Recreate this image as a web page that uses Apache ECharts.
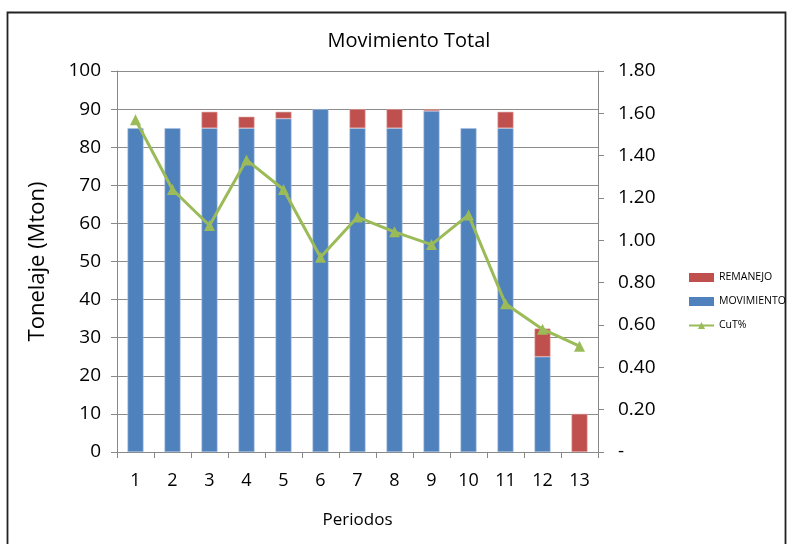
<!DOCTYPE html>
<html><head><meta charset="utf-8">
<script src="https://cdn.jsdelivr.net/npm/echarts@6/dist/echarts.min.js"></script>
<style>html,body{margin:0;padding:0;background:#fff}#c{width:788px;height:544px}</style>
</head><body><div id="c"></div>
<script>
const categories = ['1','2','3','4','5','6','7','8','9','10','11','12','13'];
const movimiento = [85, 85, 85, 85, 87.5, 90, 85, 85, 89.5, 85, 85, 25, 0];
const remanejo   = [0, 0, 4.3, 3, 1.8, 0, 5, 5, 0.5, 0, 4.3, 7.4, 10];
const cut        = [1.57, 1.24, 1.07, 1.38, 1.24, 0.92, 1.11, 1.04, 0.98, 1.12, 0.70, 0.58, 0.50];

const FONT = '"Open Sans", sans-serif';
const nz = a => a.map(v => v === 0 ? null : v);
const chart = echarts.init(document.getElementById('c'));
chart.setOption({
  animation: false,
  textStyle: { fontFamily: FONT },
  graphic: [{ type: 'rect', shape: { x: 7.5, y: 12.5, width: 778, height: 540 }, style: { fill: 'none', stroke: '#222', lineWidth: 1.8 } }],
  title: { text: 'Movimiento Total', left: 404, top: 26, textAlign: 'center',
    textStyle: { fontFamily: FONT, fontSize: 20, fontWeight: 'normal', color: '#000' } },
  legend: {
    orient: 'vertical', left: 683, top: 267, itemGap: 13, itemWidth: 25, itemHeight: 9, itemStyle: { borderWidth: 0 },
    textStyle: { fontFamily: FONT, fontSize: 10.5, color: '#000' },
    data: [{ name: 'REMANEJO', icon: 'rect' }, { name: 'MOVIMIENTO', icon: 'rect' }, { name: 'CuT%' }]
  },
  grid: { left: 117, right: 190, top: 71, bottom: 92 },
  xAxis: {
    type: 'category', data: categories, name: 'Periodos', nameLocation: 'middle', nameGap: 60,
    nameTextStyle: { fontFamily: FONT, fontSize: 17, color: '#000' },
    axisLine: { lineStyle: { color: '#888' } },
    axisTick: { show: true, length: 6, lineStyle: { color: '#888' } },
    axisLabel: { fontFamily: FONT, fontSize: 18, color: '#000', margin: 20 }
  },
  yAxis: [{
    type: 'value', min: 0, max: 100, interval: 10, name: 'Tonelaje (Mton)', nameLocation: 'middle', nameGap: 68,
    nameTextStyle: { fontFamily: FONT, fontSize: 22, color: '#000' },
    axisLine: { show: true, lineStyle: { color: '#888' } },
    axisTick: { show: true, length: 6, lineStyle: { color: '#888' } },
    axisLabel: { fontFamily: FONT, fontSize: 19, color: '#000', margin: 16 },
    splitLine: { lineStyle: { color: '#8c8c8c', width: 1 } }
  }, {
    type: 'value', min: 0, max: 1.8, interval: 0.2, position: 'right',
    axisLine: { show: true, lineStyle: { color: '#888' } },
    axisTick: { show: true, length: 6, lineStyle: { color: '#888' } },
    axisLabel: { fontFamily: FONT, fontSize: 19, color: '#000', margin: 20,
      formatter: v => v === 0 ? '-' : v.toFixed(2) },
    splitLine: { show: false }
  }],
  series: [
    { name: 'MOVIMIENTO', type: 'bar', stack: 't', data: nz(movimiento), barWidth: 16,
      itemStyle: { color: '#4F81BD', borderColor: '#a9c1e0', borderWidth: 0.6 } },
    { name: 'REMANEJO', type: 'bar', stack: 't', data: nz(remanejo), barWidth: 16,
      itemStyle: { color: '#C0504D', borderColor: '#e0a9a8', borderWidth: 0.6 } },
    { name: 'CuT%', type: 'line', yAxisIndex: 1, data: cut, symbol: 'triangle', symbolSize: 11,
      lineStyle: { color: '#9BBB59', width: 3 }, itemStyle: { color: '#9BBB59' }, z: 5 }
  ]
});
</script></body></html>
